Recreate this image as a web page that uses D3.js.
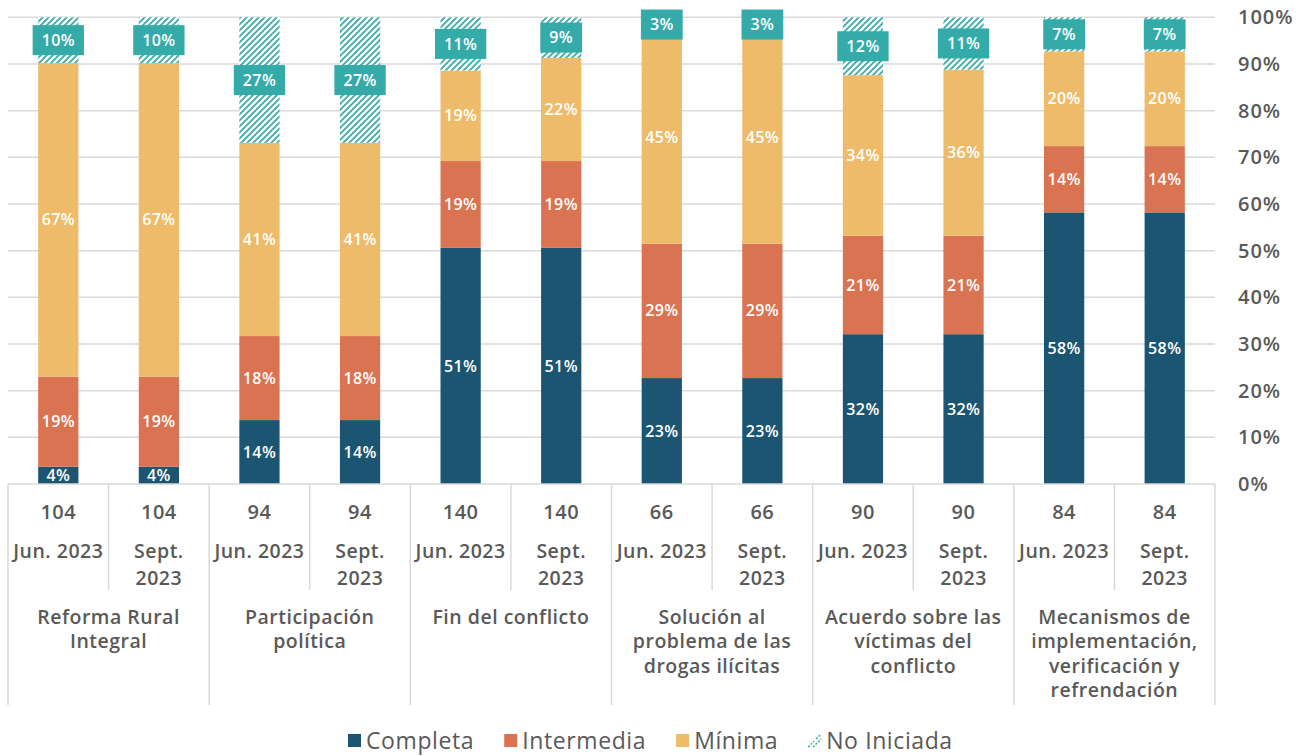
<!DOCTYPE html>
<html><head><meta charset="utf-8">
<script src="https://cdn.jsdelivr.net/npm/d3@7"></script>
<style>
html,body{margin:0;padding:0;background:#fff;}
svg{display:block;font-family:"Open Sans",sans-serif;}
</style></head>
<body><svg id="chart" width="1307" height="756"></svg>
<script>
// ---- data ----
const groups = ["Reforma Rural\nIntegral","Participación\npolítica","Fin del conflicto","Solución al\nproblema de las\ndrogas ilícitas","Acuerdo sobre las\nvíctimas del\nconflicto","Mecanismos de\nimplementación,\nverificación y\nrefrendación"];
const periods = ["Jun. 2023","Sept.\n2023"];
const counts = [104,104,94,94,140,140,66,66,90,90,84,84];
const completa   = [3.7,3.7,13.7,13.7,50.6,50.6,22.7,22.7,32.1,32.1,58.2,58.2];
const intermedia = [19.3,19.3,18.0,18.0,18.6,18.6,28.8,28.8,21.1,21.1,14.2,14.2];
const minima     = [67.2,67.2,41.4,41.4,19.4,22.1,45.4,45.4,34.4,35.6,20.3,20.3];
const noIniciada = [9.8,9.8,26.9,26.9,11.4,8.7,3.1,3.1,12.4,11.2,7.3,7.3];
const seriesNames = ["Completa","Intermedia","Mínima","No Iniciada"];
const yTicks = [0,10,20,30,40,50,60,70,80,90,100];

// ---- styles ----
const colors = {"Completa":"#1B5571","Intermedia":"#DA7352","Mínima":"#EEBB6A","No Iniciada":"#34ABA9"};
const textColor = "#595959", gridColor = "#D9D9D9";

const svg = d3.select("#chart");
const X0 = 8, X1 = 1215, Y0 = 484, Y1 = 17.3;

const idx = d3.range(counts.length);
const rows = idx.map(i => ({i, "Completa":completa[i], "Intermedia":intermedia[i], "Mínima":minima[i], "No Iniciada":noIniciada[i]}));
const x = d3.scaleBand().domain(idx).range([X0, X1]).paddingInner(0.6).paddingOuter(0.3);
const step = x.step();
const y = d3.scaleLinear().domain([0,100]).range([Y0, Y1]);

// pattern
const defs = svg.append("defs");
const pat = defs.append("pattern").attr("id","hatch").attr("patternUnits","userSpaceOnUse")
  .attr("width",6).attr("height",6);
pat.append("rect").attr("width",6).attr("height",6).attr("fill","#fff");
pat.append("path").attr("d","M-1,1 l2,-2 M0,6 l6,-6 M5,7 l2,-2")
  .attr("stroke",colors["No Iniciada"]).attr("stroke-width",1.7);

// gridlines
svg.append("g").selectAll("line").data(yTicks.filter(d=>d>0)).join("line")
  .attr("x1",X0).attr("x2",X1).attr("y1",d=>y(d)).attr("y2",d=>y(d))
  .attr("stroke",gridColor).attr("stroke-width",1.5);

// right axis labels
const yAxis = d3.axisRight(y).tickValues(yTicks).tickFormat(d=>d+"%").tickSize(0).tickPadding(23);
const ya = svg.append("g").attr("transform",`translate(${X1},0)`).call(yAxis);
ya.select(".domain").remove();
ya.selectAll("text").attr("fill",textColor).style("font-size","20px").style("font-weight",600)
  .style("letter-spacing","1px").style("font-family","'Open Sans',sans-serif");

// stacks
const stack = d3.stack().keys(seriesNames)(rows);
const layers = svg.append("g").selectAll("g").data(stack).join("g");
layers.selectAll("rect").data(d=>d.map(v=>({key:d.key, v}))).join("rect")
  .attr("x",d=>x(d.v.data.i)).attr("width",x.bandwidth())
  .attr("y",d=>y(d.v[1])).attr("height",d=>y(d.v[0])-y(d.v[1]))
  .attr("fill",d=>d.key==="No Iniciada"?"url(#hatch)":colors[d.key]);

// segment labels
const labG = svg.append("g");
stack.forEach(layer => {
  layer.forEach(v => {
    const cx = x(v.data.i) + x.bandwidth()/2;
    const cy = (y(v[0]) + y(v[1]))/2;
    const txt = Math.round(v[1]-v[0]) + "%";
    const t = labG.append("text").attr("x",cx).attr("y",cy).attr("dy","0.35em")
      .attr("text-anchor","middle").attr("fill","#fff").style("font-size","16px").style("font-weight",600)
      .style("letter-spacing","0.4px").text(txt);
    if (layer.key === "No Iniciada") {
      const w = t.node().getComputedTextLength();
      labG.insert("rect", () => t.node()).attr("x",cx-w/2-9).attr("y",cy-15).attr("width",w+18).attr("height",30)
        .attr("fill",colors["No Iniciada"]);
    }
  });
});

// category axis
const ax = svg.append("g");
ax.append("line").attr("x1",X0).attr("x2",X1).attr("y1",Y0).attr("y2",Y0).attr("stroke",gridColor).attr("stroke-width",1.5);
d3.range(counts.length+1).forEach(k => {
  const xx = X0 + k*step;
  ax.append("line").attr("x1",xx).attr("x2",xx).attr("y1",Y0).attr("y2", k%2===0 ? 705 : 590)
    .attr("stroke",gridColor).attr("stroke-width",1.5);
});
const lbl = svg.append("g").attr("fill",textColor).style("font-weight",600).attr("text-anchor","middle")
  .style("letter-spacing","0.5px");
idx.forEach(i => {
  const cx = x(i) + x.bandwidth()/2;
  lbl.append("text").attr("x",cx).attr("y",512).attr("dy","0.35em").style("font-size","20px").text(counts[i]);
  periods[i%2].split("\n").forEach((line,j) => {
    lbl.append("text").attr("x",cx).attr("y",551+j*27).attr("dy","0.35em").style("font-size","19.5px").text(line);
  });
});
groups.forEach((g,gi) => {
  const cx = X0 + (gi*2+1)*step;
  g.split("\n").forEach((line,j) => {
    lbl.append("text").attr("x",cx).attr("y",617+j*24.5).attr("dy","0.35em").style("font-size","19.5px").text(line);
  });
});

// legend
const leg = svg.append("g");
let lx = 348;
seriesNames.forEach((s,si) => {
  const g = leg.append("g");
  if (s === "No Iniciada") {
    g.append("path").attr("d",`M${lx},${747} l6,-6 M${lx+5},${747} l8,-8 M${lx+8},${739} l5,-5`)
      .attr("stroke",colors[s]).attr("stroke-width",1.6).attr("stroke-dasharray","2,1.5");
  } else {
    g.append("rect").attr("x",lx).attr("y",734).attr("width",13).attr("height",13).attr("fill",colors[s]);
  }
  const t = g.append("text").attr("x",lx+18).attr("y",741).attr("dy","0.35em").attr("fill",textColor)
    .style("font-size","23px").style("font-weight",500).style("letter-spacing","0.6px").text(s);
  lx += 18 + t.node().getComputedTextLength() + 30;
});
</script></body></html>
